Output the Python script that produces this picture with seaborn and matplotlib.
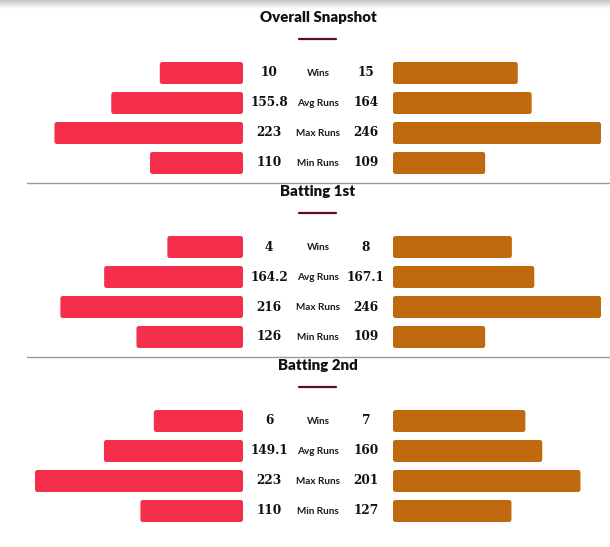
import numpy as np
import pandas as pd
import matplotlib
matplotlib.use("Agg")
import matplotlib.pyplot as plt
from matplotlib.patches import FancyBboxPatch
import seaborn as sns

# data
sections = ["Overall Snapshot", "Batting 1st", "Batting 2nd"]
metrics = ["Wins", "Avg Runs", "Max Runs", "Min Runs"]
left_vals = [[10, 155.8, 223, 110], [4, 164.2, 216, 126], [6, 149.1, 223, 110]]
right_vals = [[15, 164, 246, 109], [8, 167.1, 246, 109], [7, 160, 201, 127]]
left_matches = [25, 11, 14]
right_matches = [25, 14, 11]

RED = "#F42E4B"
ORANGE = "#C0690F"
MAROON = "#5E0E1C"

sns.set_theme(style="white")
plt.rcParams["font.family"] = ["Lato", "DejaVu Sans"]

W, H = 610, 547
fig = plt.figure(figsize=(W / 100, H / 100), dpi=100)


def px_axes(x, y, w, h):
    # rectangle given in pixels from top-left
    return fig.add_axes([x / W, 1 - (y + h) / H, w / W, h / H])


def round_bars(ax, aspect, r):
    for p in list(ax.patches):
        fb = FancyBboxPatch((p.get_x(), p.get_y()), p.get_width(), p.get_height(),
                            boxstyle=f"round,pad=0,rounding_size={r}",
                            mutation_aspect=aspect, fc=p.get_facecolor(), ec="none")
        p.remove()
        ax.add_patch(fb)


# top shadow
sh = px_axes(0, 0, W, 9)
sh.imshow(np.linspace(0.78, 1.0, 20).reshape(-1, 1), cmap="gray", vmin=0, vmax=1,
          aspect="auto", extent=[0, 1, 0, 1])
sh.axis("off")

bar_len = 208
row_h = 30
for s, title in enumerate(sections):
    top = 73 + 174 * s - 15
    lv = left_vals[s]
    rv = right_vals[s]
    run_max = max(lv[1:] + rv[1:])
    lfrac = [lv[0] / left_matches[s]] + [v / run_max for v in lv[1:]]
    rfrac = [rv[0] / right_matches[s]] + [v / run_max for v in rv[1:]]

    axL = px_axes(243 - bar_len, top, bar_len, row_h * 4)
    axR = px_axes(393, top, bar_len, row_h * 4)
    for ax, frac, col in [(axL, lfrac, RED), (axR, rfrac, ORANGE)]:
        df = pd.DataFrame({"metric": metrics, "frac": frac})
        sns.barplot(data=df, x="frac", y="metric", orient="h", color=col,
                    saturation=1, width=22 / 30, ax=ax)
        ax.set_ylim(3.5, -0.5)
        round_bars(ax, bar_len / row_h, 2.5 / bar_len)
        ax.axis("off")
    axL.set_xlim(1, 0)
    axR.set_xlim(0, 1)

    # middle labels
    axM = px_axes(243, top, 150, row_h * 4)
    axM.set_xlim(0, 150)
    axM.set_ylim(3.5, -0.5)
    axM.axis("off")
    for i, m in enumerate(metrics):
        axM.text(26, i, f"{lv[i]:g}", ha="center", va="center", fontsize=8.7,
                 fontweight="bold", family=["DejaVu Serif"], color="#111111")
        axM.text(123, i, f"{rv[i]:g}", ha="center", va="center", fontsize=8.7,
                 fontweight="bold", family=["DejaVu Serif"], color="#111111")
        axM.text(75, i, m, ha="center", va="center", fontsize=7.2,
                 fontweight="bold", color="#1a1a1a")

    # title and underline
    ty = 18 + 174 * s
    fig.text(318 / W, 1 - ty / H, title, ha="center", va="center", fontsize=10.8,
             fontweight="heavy", color="#111111")
    uy = 1 - (38.5 + 174 * s) / H
    fig.add_artist(plt.Line2D([299 / W, 336 / W], [uy, uy], color=MAROON, lw=1.6))

    if s > 0:
        sy = 1 - (182.5 + 174 * (s - 1)) / H
        fig.add_artist(plt.Line2D([27 / W, 609 / W], [sy, sy], color="#9a9a9a", lw=1))

fig.savefig("out.png", dpi=100)
